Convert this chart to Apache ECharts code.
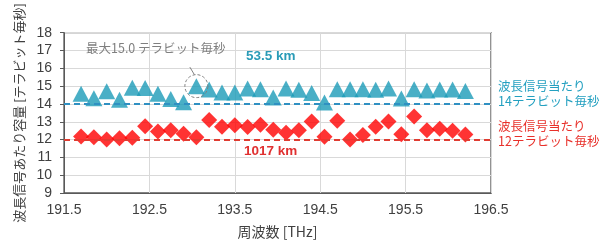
<!DOCTYPE html>
<html lang="ja">
<head>
<meta charset="UTF-8">
<title>波長信号あたり容量</title>
<script src="https://cdn.jsdelivr.net/npm/echarts@6/dist/echarts.min.js"></script>
<style>
    * { margin: 0; padding: 0; }
    body { background: #fff; }
    #main { width: 600px; height: 250px; }
</style>
</head>
<body>
<div id="main"></div>
<script>
    // 周波数 [THz]
    var freqs = [191.70, 191.85, 192.00, 192.15, 192.30, 192.45, 192.60, 192.75, 192.90, 193.05,
                 193.20, 193.35, 193.50, 193.65, 193.80, 193.95, 194.10, 194.25, 194.40, 194.55,
                 194.70, 194.85, 195.00, 195.15, 195.30, 195.45, 195.60, 195.75, 195.90, 196.05, 196.20];
    // 53.5 km 伝送
    var cap535 = [14.57, 14.32, 14.71, 14.23, 14.91, 14.89, 14.57, 14.28, 14.10, 15.00,
                  14.81, 14.64, 14.64, 14.87, 14.82, 14.36, 14.87, 14.79, 14.62, 14.08,
                  14.82, 14.82, 14.82, 14.80, 14.87, 14.31, 14.82, 14.75, 14.81, 14.81, 14.72];
    // 1017 km 伝送
    var cap1017 = [12.17, 12.13, 12.00, 12.07, 12.10, 12.75, 12.45, 12.53, 12.33, 12.13,
                   13.10, 12.72, 12.80, 12.71, 12.83, 12.55, 12.38, 12.52, 13.02, 12.16,
                   13.06, 12.01, 12.26, 12.72, 13.02, 12.30, 13.30, 12.53, 12.61, 12.50, 12.28];
    var target535 = 14;
    var target1017 = 12;

    var font = "'Liberation Sans', 'Noto Sans CJK JP', sans-serif";
    var jpFont = "'Noto Sans CJK JP', 'Liberation Sans', sans-serif";

    function pairs(ys) {
        var out = [];
        for (var i = 0; i < freqs.length; i++) out.push([freqs[i], ys[i]]);
        return out;
    }

    var myChart = echarts.init(document.getElementById('main'));

    var option = {
        animation: false,
        grid: {
            left: 64, right: 109, top: 15, bottom: 57,
            show: true, borderColor: '#595959', borderWidth: 1.3
        },
        xAxis: {
            type: 'value', min: 191.5, max: 196.5, interval: 1,
            name: '周波数 [THz]', nameLocation: 'middle', nameGap: 32,
            nameTextStyle: { fontFamily: jpFont, fontSize: 14, color: '#404040' },
            axisLine: { lineStyle: { color: '#595959' } },
            axisTick: { show: false },
            axisLabel: {
                fontFamily: font, fontSize: 14, color: '#404040', margin: 10,
                formatter: function (v) { return v.toFixed(1); }
            },
            splitLine: { lineStyle: { color: '#d9d9d9' } }
        },
        yAxis: {
            type: 'value', min: 9, max: 18, interval: 1,
            name: '波長信号あたり容量 [テラビット毎秒]', nameLocation: 'middle', nameGap: 36,
            nameTextStyle: { fontFamily: jpFont, fontSize: 13, color: '#404040' },
            axisLine: { show: true, lineStyle: { color: '#595959' } },
            axisTick: { show: true, length: 4, lineStyle: { color: '#595959' } },
            axisLabel: { fontFamily: font, fontSize: 14, color: '#404040', margin: 12 },
            splitLine: { lineStyle: { color: '#d9d9d9' } }
        },
        series: [
            {
                name: '53.5 km', type: 'scatter', data: pairs(cap535),
                symbol: 'triangle', symbolSize: [17, 16],
                itemStyle: { color: '#1b9bb8' },
                z: 3,
                markLine: {
                    silent: true, symbol: 'none', label: { show: false },
                    lineStyle: { color: '#2f90c2', type: [6, 4], width: 1.8 },
                    data: [{ yAxis: target535 }]
                }
            },
            {
                name: '1017 km', type: 'scatter', data: pairs(cap1017),
                symbol: 'diamond', symbolSize: 16,
                itemStyle: { color: '#ff0000' },
                z: 3,
                markLine: {
                    silent: true, symbol: 'none', label: { show: false },
                    lineStyle: { color: '#e03c31', type: [6, 4], width: 1.8 },
                    data: [{ yAxis: target1017 }]
                }
            }
        ]
    };
    myChart.setOption(option);

    // 最大値の注記（データから位置を求める）
    var maxIdx = 0;
    for (var i = 1; i < cap535.length; i++) if (cap535[i] > cap535[maxIdx]) maxIdx = i;
    var p = myChart.convertToPixel({ gridIndex: 0 }, [freqs[maxIdx], cap535[maxIdx]]);

    myChart.setOption({
        graphic: [
            {
                type: 'circle', shape: { cx: p[0], cy: p[1], r: 11.5 },
                style: { fill: 'none', stroke: '#808080', lineWidth: 1, lineDash: [3, 2] }, z: 10
            },
            {
                type: 'line', shape: { x1: p[0] - 6.5, y1: p[1] - 19, x2: p[0] - 2, y2: p[1] - 11.5 },
                style: { stroke: '#808080', lineWidth: 1 }, z: 10
            },
            {
                type: 'text', left: 86, top: 42, z: 10,
                style: { text: '最大15.0 テラビット毎秒', font: '12.5px ' + jpFont, fill: '#7f7f7f' }
            },
            {
                type: 'text', left: 246, top: 50, z: 10,
                style: { text: '53.5 km', font: 'bold 13.5px ' + font, fill: '#2a9bb7' }
            },
            {
                type: 'text', left: 244, top: 145, z: 10,
                style: { text: '1017 km', font: 'bold 13.5px ' + font, fill: '#e03030' }
            },
            {
                type: 'text', left: 498, top: 79, z: 10,
                style: { text: '波長信号当たり\n14テラビット毎秒', font: '12.5px ' + jpFont, fill: '#23a0c0', lineHeight: 15 }
            },
            {
                type: 'text', left: 498, top: 119, z: 10,
                style: { text: '波長信号当たり\n12テラビット毎秒', font: '12.5px ' + jpFont, fill: '#e8302a', lineHeight: 15 }
            }
        ]
    });
</script>
</body>
</html>
